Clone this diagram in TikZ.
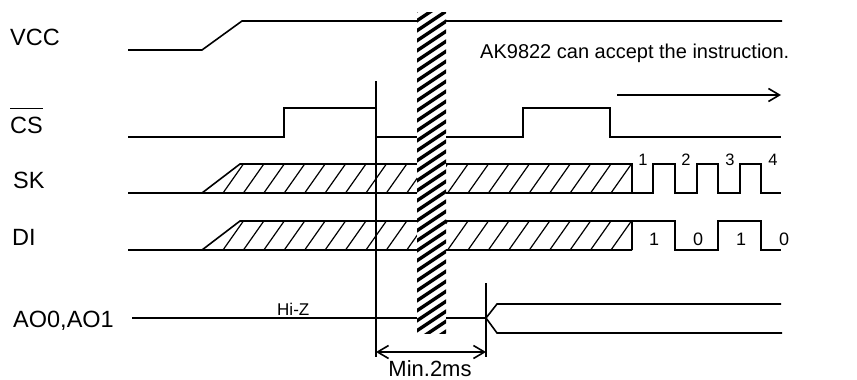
\documentclass[tikz,border=0pt]{standalone}
\usepackage{fontspec}
\setmainfont{Liberation Sans}
\usetikzlibrary{arrows.meta}
\begin{document}
\begin{tikzpicture}[x=1pt,y=-1pt,
  sig/.style={line width=1.6pt, line join=miter},
  hatchline/.style={line width=1.2pt},
  lbl/.style={anchor=base west, inner sep=0pt, font=\fontsize{23.5}{28}\selectfont},
  txt/.style={anchor=base west, inner sep=0pt, font=\fontsize{20}{24}\selectfont},
  small/.style={anchor=base, inner sep=0pt, font=\fontsize{16.5}{20}\selectfont},
  bit/.style={anchor=base, inner sep=0pt, font=\fontsize{18}{22}\selectfont},
  tip/.style={line width=1.6pt, -{Straight Barb[length=11pt,width=13pt,line width=1.6pt]}},
  dim/.style={line width=1.6pt, {Straight Barb[length=11pt,width=13pt,line width=1.6pt]}-{Straight Barb[length=11pt,width=13pt,line width=1.6pt]}}]
\useasboundingbox (0,0) rectangle (857,380);

% labels
\node[lbl] (vcc) at (10,45) {VCC};
\node[lbl] (cs) at (10,133) {CS};
\draw[line width=1.2pt] ([yshift=8pt]cs.north west) -- ([yshift=8pt]cs.north east);
\node[lbl] (sk) at (13,188) {SK};
\node[lbl] (di) at (12,245) {DI};
\node[lbl] (ao) at (13,327) {AO0,AO1};

% VCC
\draw[sig] (128,50) -- (202,50) -- (242,21) -- (782,21);

% CS
\draw[sig] (128,137) -- (284,137) -- (284,108) -- (376,108);
\draw[sig] (376,137) -- (523,137) -- (523,108) -- (610,108) -- (610,137) -- (781,137);

% SK and DI hatched regions
\foreach \yb/\yt in {193/164, 250/221}{
  \draw[sig] (128,\yb) -- (632,\yb);
  \draw[sig] (202,\yb) -- (240,\yt) -- (632,\yt) -- (632,\yb);
  \foreach \k in {0,...,19}
    \draw[hatchline] (223+20.42*\k,\yb) -- ++(20.42,\yt-\yb);
}
% SK clock
\draw[sig] (632,193) -- (653,193) -- (653,164) -- (675,164) -- (675,193) -- (697,193) -- (697,164)
  -- (718,164) -- (718,193) -- (740,193) -- (740,164) -- (761,164) -- (761,193) -- (781,193);
\node[small] (s1) at (643,165) {1};
\node[small] (s2) at (686,165) {2};
\node[small] (s3) at (730,165) {3};
\node[small] (s4) at (773,165) {4};
% DI data
\draw[sig] (632,221) -- (675,221) -- (675,250) -- (718,250) -- (718,221) -- (761,221) -- (761,250) -- (781,250);
\node[bit] (d1) at (654,245) {1};
\node[bit] (d2) at (698,245) {0};
\node[bit] (d3) at (741,245) {1};
\node[bit] (d4) at (784,245) {0};

% AO0, AO1
\draw[sig] (132,318) -- (486,318);
\draw[sig] (486,318) -- (497,304) -- (781,304);
\draw[sig] (486,318) -- (497,333) -- (782,333);
\node[anchor=base west, inner sep=0pt, font=\fontsize{17}{20}\selectfont] (hiz) at (277,315) {Hi-Z};

% hatched break bar
\begin{scope}
  \clip (417,12) rectangle (446,333);
  \fill[white] (417,12) rectangle (446,333);
  \foreach \s in {0,...,36}
    \draw[line width=3.4pt] (415,12+10*\s) -- ++(33,-22);
\end{scope}

% vertical markers
\draw[sig] (376,81) -- (376,357);
\draw[sig] (486,283) -- (486,357);

% dimension
\coordinate (m1) at (376,352);
\coordinate (m2) at (486,352);
\draw[dim] (m1) -- (m2);
\node[anchor=base, inner sep=0pt, font=\fontsize{22}{26}\selectfont] (min) at (430,376) {Min.2ms};

% instruction note
\node[txt] (ak) at (480,58) {AK9822 can accept the instruction.};
\coordinate (a1) at (617,95);
\coordinate (a2) at (781,95);
\draw[tip] (a1) -- (a2);
\end{tikzpicture}
\end{document}
